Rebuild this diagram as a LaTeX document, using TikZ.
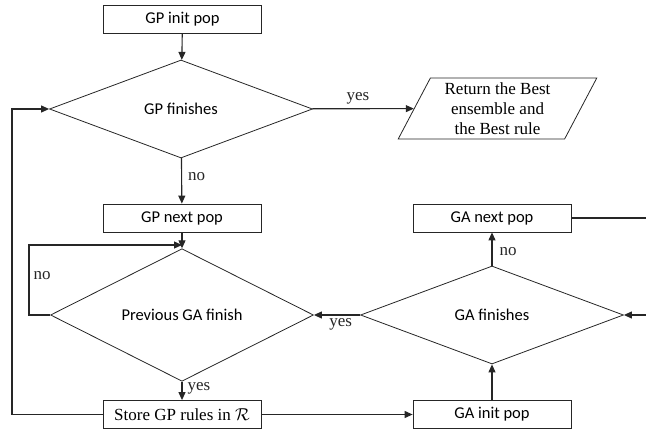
\documentclass[tikz,border=0pt]{standalone}
\usepackage{fontspec}
\setmainfont{Liberation Serif}
\newfontfamily\calib{Carlito}
\usetikzlibrary{arrows.meta,shapes.geometric}
\tikzset{
  procbox/.style={draw=black!85, line width=0.8pt, minimum width=158pt, minimum height=28pt,
    inner sep=0pt, font=\calib\fontsize{16.5}{20}\selectfont},
  decide/.style={diamond, draw=black!85, line width=0.8pt, minimum width=263pt,
    minimum height=98pt, inner sep=0pt, font=\calib\fontsize{16.5}{20}\selectfont},
  outbox/.style={trapezium, trapezium left angle=64, trapezium right angle=116,
    trapezium stretches=true, draw=black!85, line width=0.8pt, minimum width=199pt,
    minimum height=61pt, inner sep=0pt, align=center, font=\fontsize{17}{20}\selectfont},
  flow/.style={-{Stealth[length=8pt,width=7pt,inset=0pt]}, line width=1.1pt, black!85},
  plainln/.style={line width=1.1pt, black!85},
  lbl/.style={font=\fontsize{17}{20}\selectfont, inner sep=0pt},
}
\begin{document}
\begin{tikzpicture}[x=1pt,y=1pt]
  \useasboundingbox (0,0) rectangle (646,432);
  % GP side
  \node[procbox] (gpinit) at (182.5,412.5) {GP init pop};
  \node[decide] (gpfin) at (181,323) {GP finishes};
  \node[outbox] (best) at (497.5,323.5) {Return the Best\\ensemble and\\the Best rule};
  \node[procbox] (gpnext) at (182,214) {GP next pop};
  \node[decide] (prevga) at (182,117) {Previous GA finish};
  \node[procbox, font=\fontsize{17}{20}\selectfont] (store) at (182,17.5) {Store GP rules in $\mathcal{R}$};
  % GA side
  \node[procbox] (ganext) at (492,214) {GA next pop};
  \node[decide] (gafin) at (492,117) {GA finishes};
  \node[procbox] (gainit) at (492,17.5) {GA init pop};
  % loop corners
  \coordinate (lft) at (12,0);
  \coordinate (nol) at (29,187);
  \coordinate (rtop) at (646,214);
  \coordinate (rbot) at (646,117);

  \draw[flow] (gpinit) -- (gpfin);
  \draw[flow] (gpfin) -- node[lbl, pos=0.4, anchor=west, xshift=6pt] {no} (gpnext);
  \draw[flow] (gpfin) -- node[lbl, pos=0.45, above=4pt] {yes} (best);
  \draw[flow] (gpnext) -- (prevga);
  \draw[flow] (prevga.west) -| node[lbl, pos=0.78, anchor=west, xshift=4pt] {no} (nol)
    -- (nol -| gpnext.south);
  \draw[flow] (prevga) -- node[lbl, pos=0.36, anchor=west, xshift=5pt] {yes} (store);
  \draw[flow] (store.west) -| (lft |- gpfin.west) -- (gpfin.west);
  \draw[flow] (store) -- (gainit);
  \draw[flow] (gainit) -- (gafin);
  \draw[flow] (gafin) -- node[lbl, pos=0.41, anchor=west, xshift=7pt] {no} (ganext);
  \draw[flow] (gafin) -- node[lbl, pos=0.42, below=3pt] {yes} (prevga);
  \draw[plainln] (ganext.east) -- (rtop);
  \draw[flow] (rbot) -- (gafin.east);
\end{tikzpicture}
\end{document}
